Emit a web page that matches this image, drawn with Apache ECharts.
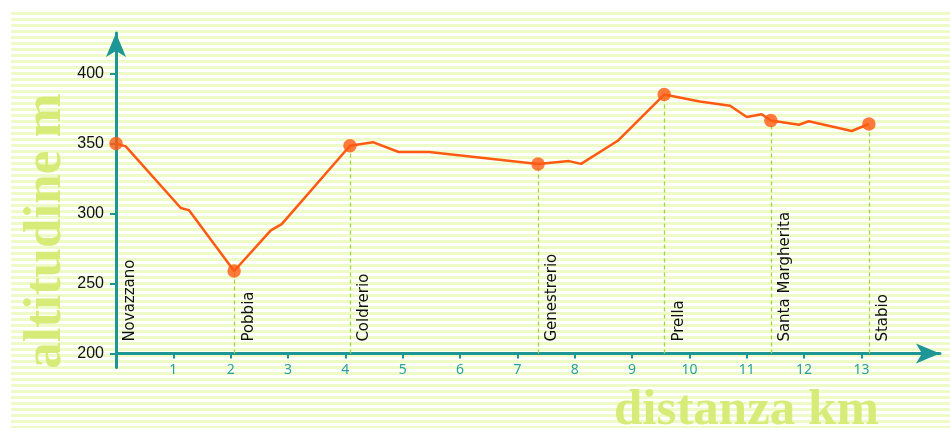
<!DOCTYPE html>
<html>
<head>
<meta charset="utf-8">
<script src="https://cdn.jsdelivr.net/npm/echarts@6/dist/echarts.min.js"></script>
<style>
html,body{margin:0;padding:0;background:#fff;}
#c{width:950px;height:431px;}
</style>
</head>
<body>
<div id="c"></div>
<script>
// Elevation profile (km, m)
const profileKm  = [0, 0.17, 1.13, 1.27, 2.06, 2.70, 2.89, 4.08, 4.48, 4.93, 5.46, 7.36, 7.90, 8.11, 8.75, 9.56, 10.18, 10.71, 11.00, 11.26, 11.42, 11.91, 12.08, 12.83, 13.13];
const profileAlt = [350, 348, 304, 302.5, 259, 288, 292.5, 348.5, 351, 344, 344, 335.5, 337.5, 335.5, 352, 385, 380, 377, 369, 371, 366.5, 363.5, 366, 359, 364];

// Towns
const townNames = ['Novazzano', 'Pobbia', 'Coldrerio', 'Genestrerio', 'Prella', 'Santa Margherita', 'Stabio'];
const townKm    = [0, 2.06, 4.08, 7.36, 9.56, 11.42, 13.13];
const townAlt   = [350, 259, 348.5, 335.5, 385, 366.5, 364];

// Tick labels
const xTicks = [1, 2, 3, 4, 5, 6, 7, 8, 9, 10, 11, 12, 13];
const yTicks = [200, 250, 300, 350, 400];

const xTitle = 'distanza km';
const yTitle = 'altitudine m';

const TEAL = '#1f9696';
const ORANGE = '#ff5a12';

const pat = document.createElement('canvas');
pat.width = 4; pat.height = 6;
const pctx = pat.getContext('2d');
pctx.fillStyle = '#ffffff'; pctx.fillRect(0, 0, 4, 6);
pctx.fillStyle = '#eefac8'; pctx.fillRect(0, 0, 4, 3);

const chart = echarts.init(document.getElementById('c'), null, {renderer: 'canvas'});

const profile = profileKm.map((x, i) => [x, profileAlt[i]]);
const towns = townKm.map((x, i) => [x, townAlt[i]]);
const markData = townNames.map((n, i) => [
  {name: n, coord: [townKm[i], 200], lineStyle: i === 0 ? {color: 'rgba(0,0,0,0)'} : undefined},
  {coord: [townKm[i], townAlt[i]]}
]);

chart.setOption({
  animation: false,
  backgroundColor: '#ffffff',
  graphic: {
    elements: [
      {type: 'rect', z: -100, silent: true,
       shape: {x: 11, y: 10, width: 939, height: 418},
       style: {fill: {image: pat, repeat: 'repeat'}}},
      {type: 'text', z: -50, silent: true, x: 614, y: 411,
       style: {text: xTitle, fill: '#d7eb78', font: 'bold 51px "Liberation Serif"', textAlign: 'left', textVerticalAlign: 'middle'}},
      {type: 'text', z: -50, silent: true, x: 46, y: 231, rotation: Math.PI / 2,
       style: {text: yTitle, fill: '#d7eb78', font: 'bold 53px "Liberation Serif"', textAlign: 'center', textVerticalAlign: 'middle'}}
    ]
  },
  grid: {left: 116, top: 33, width: 824, height: 334.6, containLabel: false},
  xAxis: {
    type: 'value', min: 0, max: 14.37, offset: -14,
    axisLine: {show: true, onZero: false, symbol: ['none', 'arrow'], symbolSize: [15, 24],
               lineStyle: {color: TEAL, width: 3}},
    axisTick: {show: true, length: 5, customValues: xTicks, lineStyle: {color: TEAL, width: 2}},
    axisLabel: {customValues: xTicks, color: '#2a9fa0', fontFamily: 'Noto Sans', fontSize: 14, margin: 9},
    splitLine: {show: false}
  },
  yAxis: {
    type: 'value', min: 190, max: 429,
    axisLine: {show: true, onZero: false, symbol: ['none', 'arrow'], symbolSize: [15, 24],
               lineStyle: {color: TEAL, width: 3}},
    axisTick: {show: true, length: 6, customValues: yTicks, lineStyle: {color: TEAL, width: 2}},
    axisLabel: {customValues: yTicks, color: '#111', fontFamily: 'Liberation Sans', fontSize: 16, margin: 12},
    splitLine: {show: false}
  },
  series: [
    {
      type: 'line', data: profile, showSymbol: false, z: 3,
      lineStyle: {color: ORANGE, width: 2.5},
      markLine: {
        silent: true, symbol: ['none', 'none'], z: 1,
        lineStyle: {color: '#a3d444', width: 1.3, type: [4, 3]},
        label: {show: true, formatter: '{b}', position: 'insideStartBottom', distance: [12, 7],
                color: '#111', fontFamily: 'DejaVu Sans', fontSize: 15},
        data: markData
      }
    },
    {
      type: 'scatter', data: towns, symbolSize: 13.5, z: 4,
      itemStyle: {color: ORANGE}
    }
  ]
});
</script>
</body>
</html>
